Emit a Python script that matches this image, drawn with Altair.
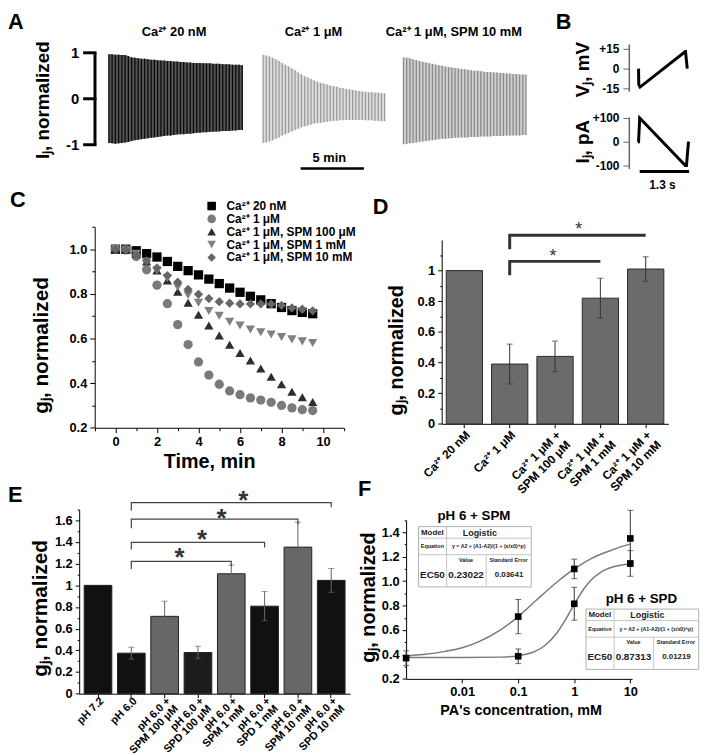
import altair as alt
import pandas as pd

FONT = "Liberation Sans"
W, H = 701, 747

# ---------------- Panel A: peak envelopes of each ramp cycle (normalized Ij) ----------------
a_titles = ["Ca²⁺ 20 nM", "Ca²⁺ 1 μM", "Ca²⁺ 1 μM, SPM 10 mM"]
a_ticks = [-1, 0, 1]
a_tick_labels = ["-1", "0", "1"]
a1_up = [0.97,0.97,0.96,0.96,0.95,0.95,0.93,0.90,0.89,0.88,0.87,0.87,0.86,0.85,0.85,0.84,0.83,0.83,0.82,0.82,0.81,0.81,0.80,0.80,0.79,0.79,0.78,0.78,0.78,0.77,0.77,0.77,0.76,0.76,0.76,0.75,0.75,0.75,0.74,0.74,0.74,0.73]
a1_lo = [-0.96,-0.97,-0.98,-0.97,-0.96,-0.95,-0.94,-0.92,-0.90,-0.89,-0.88,-0.87,-0.86,-0.85,-0.84,-0.83,-0.82,-0.81,-0.80,-0.80,-0.79,-0.78,-0.77,-0.77,-0.76,-0.76,-0.75,-0.74,-0.74,-0.73,-0.73,-0.72,-0.72,-0.71,-0.71,-0.70,-0.70,-0.70,-0.69,-0.69,-0.68,-0.68]
a2_up = [0.96,0.94,0.92,0.89,0.86,0.82,0.78,0.74,0.70,0.66,0.62,0.57,0.53,0.49,0.46,0.43,0.40,0.37,0.35,0.33,0.31,0.29,0.27,0.26,0.24,0.23,0.21,0.20,0.19,0.18,0.17,0.16,0.15,0.14,0.14,0.13,0.13,0.12,0.12]
a2_lo = [-0.96,-0.95,-0.93,-0.90,-0.87,-0.84,-0.80,-0.77,-0.74,-0.71,-0.68,-0.65,-0.62,-0.60,-0.58,-0.56,-0.54,-0.53,-0.52,-0.51,-0.50,-0.49,-0.48,-0.48,-0.47,-0.47,-0.46,-0.46,-0.46,-0.46,-0.46,-0.46,-0.47,-0.47,-0.47,-0.48,-0.48,-0.49,-0.49]
a3_up = [0.90,0.89,0.88,0.86,0.84,0.82,0.80,0.79,0.77,0.76,0.74,0.73,0.72,0.70,0.69,0.68,0.67,0.66,0.65,0.64,0.63,0.62,0.61,0.61,0.60,0.59,0.58,0.58,0.57,0.57,0.56,0.56,0.55,0.55,0.54,0.54,0.53,0.53,0.52]
a3_lo = [-0.99,-0.98,-0.97,-0.96,-0.95,-0.94,-0.93,-0.92,-0.91,-0.90,-0.89,-0.88,-0.87,-0.87,-0.86,-0.86,-0.85,-0.85,-0.84,-0.84,-0.84,-0.83,-0.83,-0.83,-0.82,-0.82,-0.82,-0.82,-0.81,-0.81,-0.81,-0.81,-0.80,-0.80,-0.80,-0.80,-0.80,-0.79,-0.79]

# ---------------- Panel B: one protocol cycle ----------------
b_v_t = [-0.03, -0.025, 0.01, 1.2, 1.205, 1.25]
b_v = [0, -12, -14, 13, 13, 0]
b_i_t = [-0.05, -0.03, 0.0, 1.2, 1.23, 1.28, 1.3]
b_i = [0, 0, 100, -100, -100, -5, 0]
b_v_ticks = [-15, 0, 15]
b_i_ticks = [-100, 0, 100]

# ---------------- Panel C ----------------
c_time = [0, 0.5, 1, 1.5, 2, 2.5, 3, 3.5, 4, 4.5, 5, 5.5, 6, 6.5, 7, 7.5, 8, 8.5, 9, 9.5]
c_series = ["Ca²⁺ 20 nM", "Ca²⁺ 1 μM", "Ca²⁺ 1 μM, SPM 100 μM", "Ca²⁺ 1 μM, SPM 1 mM", "Ca²⁺ 1 μM, SPM 10 mM"]
c_20nM = [1.0, 1.0, 0.993, 0.98, 0.965, 0.945, 0.923, 0.904, 0.885, 0.866, 0.846, 0.826, 0.807, 0.789, 0.773, 0.756, 0.739, 0.725, 0.717, 0.711]
c_1uM = [1.0, 0.997, 0.967, 0.908, 0.839, 0.756, 0.662, 0.573, 0.495, 0.436, 0.395, 0.365, 0.348, 0.334, 0.324, 0.314, 0.300, 0.289, 0.281, 0.277]
c_spm100 = [1.0, 0.997, 0.98, 0.945, 0.905, 0.86, 0.81, 0.76, 0.706, 0.658, 0.613, 0.572, 0.535, 0.501, 0.466, 0.429, 0.395, 0.361, 0.337, 0.315]
c_spm1 = [1.0, 0.997, 0.98, 0.945, 0.905, 0.87, 0.83, 0.795, 0.76, 0.723, 0.702, 0.675, 0.658, 0.64, 0.628, 0.618, 0.607, 0.596, 0.587, 0.58]
c_spm10 = [1.0, 0.997, 0.972, 0.948, 0.916, 0.882, 0.852, 0.82, 0.798, 0.779, 0.765, 0.758, 0.755, 0.755, 0.755, 0.754, 0.748, 0.737, 0.731, 0.724]
c_shapes = ["square", "circle", "triangle-up", "triangle-down", "diamond"]
c_colors = ["#000000", "#7a7a7a", "#2e2e2e", "#808080", "#666666"]

# ---------------- Panel D ----------------
d_cats = ["Ca²⁺ 20 nM", "Ca²⁺ 1 μM", "Ca²⁺ 1 μM +\nSPM 100 μM", "Ca²⁺ 1 μM +\nSPM 1 mM", "Ca²⁺ 1 μM +\nSPM 10 mM"]
d_vals = [1.0, 0.39, 0.44, 0.82, 1.01]
d_err = [0.0, 0.13, 0.10, 0.13, 0.08]

# ---------------- Panel E ----------------
e_cats = ["pH 7.2", "pH 6.0", "pH 6.0 +\nSPM 100 μM", "pH 6.0 +\nSPD 100 μM", "pH 6.0 +\nSPM 1 mM",
          "pH 6.0 +\nSPD 1 mM", "pH 6.0 +\nSPM 10 mM", "pH 6.0 +\nSPD 10 mM"]
e_vals = [1.0, 0.374, 0.714, 0.38, 1.107, 0.808, 1.353, 1.046]
e_err = [0.0, 0.055, 0.14, 0.057, 0.08, 0.135, 0.23, 0.11]
e_colors = ["#111111", "#111111", "#676767", "#1c1c1c", "#676767", "#111111", "#676767", "#111111"]

# ---------------- Panel F ----------------
f_spm_x = [0.001, 0.1, 1, 10]
f_spm_y = [0.37, 0.71, 1.10, 1.35]
f_spm_e = [0.06, 0.14, 0.08, 0.23]
f_spd_x = [0.1, 1, 10]
f_spd_y = [0.385, 0.815, 1.145]
f_spd_e = [0.06, 0.135, 0.105]
f_spm_fit_x = [0.001, 0.002, 0.005, 0.01, 0.02, 0.05, 0.1, 0.2, 0.5, 1, 2, 5, 10]
f_spm_fit_y = [0.39, 0.40, 0.425, 0.455, 0.505, 0.605, 0.71, 0.835, 0.995, 1.10, 1.185, 1.26, 1.305]
f_spd_fit_x = [0.001, 0.01, 0.05, 0.1, 0.2, 0.3, 0.5, 0.7, 1, 1.5, 2, 3, 5, 10]
f_spd_fit_y = [0.375, 0.375, 0.378, 0.39, 0.425, 0.473, 0.582, 0.686, 0.81, 0.94, 1.01, 1.075, 1.118, 1.141]
f_tables = [("pH 6 + SPM", "0.23022", "0.03641"), ("pH 6 + SPD", "0.87313", "0.01219")]


# ---------------- helpers ----------------
def P(v):
    return v - 8


def lin(dom, r0, r1):
    return alt.Scale(type="linear", domain=dom, range=[P(r0), P(r1)], nice=False, zero=False)


AX = dict(title=None, grid=False, labelFont=FONT, labelFontWeight="bold", labelColor="black",
          domainColor="black", tickColor="black", labelFlush=False, labelOverlap=False)


def yaxis(xpos, values, fmt=None, size=13, tick=5, pad=3, **kw):
    d = dict(AX)
    d.update(kw)
    if fmt:
        d["format"] = fmt
    return alt.Axis(orient="left", offset=-P(xpos), values=values, tickSize=tick,
                    labelFontSize=size, labelPadding=pad, **d)


def xaxis(ypos, values=None, fmt=None, size=13, tick=5, pad=3, **kw):
    d = dict(AX)
    d.update(kw)
    if fmt:
        d["format"] = fmt
    if values is not None:
        d["values"] = values
    return alt.Axis(orient="bottom", offset=P(ypos) - H, tickSize=tick,
                    labelFontSize=size, labelPadding=pad, **d)


def txt(s, x, y, size, angle=0, weight="bold", align="center", baseline="middle", color="black"):
    return alt.Chart(pd.DataFrame({"s": [s]})).mark_text(
        align=align, baseline=baseline, fontSize=size, fontWeight=weight, font=FONT,
        angle=angle, color=color).encode(text="s:N", x=alt.value(P(x)), y=alt.value(P(y)))


def seg(x1, y1, x2, y2, w=1.0, color="black"):
    return alt.Chart(pd.DataFrame({"a": [0]})).mark_rule(strokeWidth=w, color=color).encode(
        x=alt.value(P(x1)), x2=alt.value(P(x2)), y=alt.value(P(y1)), y2=alt.value(P(y2)))


def box(x1, y1, x2, y2, stroke="#b0b0b0"):
    return alt.Chart(pd.DataFrame({"a": [0]})).mark_rect(fill="white", stroke=stroke, strokeWidth=1).encode(
        x=alt.value(P(x1)), x2=alt.value(P(x2)), y=alt.value(P(y1)), y2=alt.value(P(y2)))


layers = []

# ================= Panel A =================
a_y = lin([-1, 1], 142, 49)
traces = [(a1_up, a1_lo, 110, 245, "#0a0a0a", "#555555"),
          (a2_up, a2_lo, 266, 389, "#9c9c9c", "#dcdcdc"),
          (a3_up, a3_lo, 408, 532, "#8a8a8a", "#cfcfcf")]
for k, (up, lo, x0, x1, rc, ac) in enumerate(traces):
    df = pd.DataFrame({"i": list(range(len(up))), "up": up, "lo": lo})
    xs = lin([0, len(up) - 1], x0, x1)
    layers.append(alt.Chart(df).mark_area(color=ac, opacity=1).encode(
        x=alt.X("i:Q", scale=xs, axis=None), y=alt.Y("lo:Q", scale=a_y, axis=None), y2="up:Q"))
    layers.append(alt.Chart(df).mark_rule(color=rc, strokeWidth=1.3).encode(
        x=alt.X("i:Q", scale=xs, axis=None), y=alt.Y("lo:Q", scale=a_y, axis=None), y2="up:Q"))
# A axis: bracket-like scale with thick ticks (drawn through the y scale)
a_ax = pd.DataFrame({"v": a_ticks, "lab": a_tick_labels})
layers.append(alt.Chart(pd.DataFrame({"a": [min(a_ticks)], "b": [max(a_ticks)]})).mark_rule(
    color="black", strokeWidth=3).encode(
    x=alt.value(P(96)), y=alt.Y("a:Q", scale=a_y, axis=None), y2="b:Q"))
layers.append(alt.Chart(a_ax).mark_rule(color="black", strokeWidth=3).encode(
    x=alt.value(P(84)), x2=alt.value(P(97.5)), y=alt.Y("v:Q", scale=a_y, axis=None)))
layers.append(alt.Chart(a_ax).mark_text(align="right", baseline="middle", fontSize=15, fontWeight="bold",
                                        font=FONT, color="black").encode(
    x=alt.value(P(80)), y=alt.Y("v:Q", scale=a_y, axis=None), text="lab:N"))
layers += [
    txt("A", 8, 25, 22, align="left", baseline="alphabetic"),
    txt("Iⱼ, normalized", 43, 97, 19, angle=270),
    txt(a_titles[0], 176, 28, 13),
    txt(a_titles[1], 317, 28, 13),
    txt(a_titles[2], 459, 28, 13),
    seg(304, 166, 368, 166, w=2.5),
    txt("5 min", 333, 155, 13),
]

# ================= Panel B =================
b_x = lin([0, 1.3], 647, 697)
bv_y = lin([-17.25, 18.75], 88, 40)
bi_y = lin([-112.5, 104.2], 166, 114)
plus = "datum.value > 0 ? '+' + datum.label : replace(datum.label, '\u2212', '-')"
layers.append(alt.Chart(pd.DataFrame({"t": b_v_t, "v": b_v})).mark_line(color="black", strokeWidth=3).encode(
    x=alt.X("t:Q", scale=b_x, axis=None),
    y=alt.Y("v:Q", scale=bv_y, axis=yaxis(636, b_v_ticks, size=12, tick=6, pad=4, labelExpr=plus,
                                          domainColor="#666", tickColor="#666", domainWidth=1.5)),
    order="t:Q"))
layers.append(alt.Chart(pd.DataFrame({"t": b_i_t, "v": b_i})).mark_line(color="black", strokeWidth=3).encode(
    x=alt.X("t:Q", scale=b_x, axis=None),
    y=alt.Y("v:Q", scale=bi_y, axis=yaxis(636, b_i_ticks, size=12, tick=6, pad=4, labelExpr=plus,
                                          domainColor="#666", tickColor="#666", domainWidth=1.5)),
    order="t:Q"))
layers += [
    txt("B", 562, 25, 22, align="left", baseline="alphabetic"),
    txt("Vⱼ, mV", 590, 66, 19, angle=270),
    txt("Iⱼ, pA", 590, 139, 19, angle=270),
    seg(647, 169, 697, 169, w=3),
    txt("1.3 s", 670, 183, 12),
]

# ================= Panel C =================
c_x = lin([-1, 11], 95.7, 347.7)
c_y = lin([0.2, 1.1], 428.3, 225.1)
rows = []
for s, vals in zip(c_series, [c_20nM, c_1uM, c_spm100, c_spm1, c_spm10]):
    for t, v in zip(c_time, vals):
        rows.append({"t": t, "g": v, "s": s})
c_df = pd.DataFrame(rows)
leg = alt.Legend(orient="none", legendX=P(208), legendY=P(198), title=None, labelFont=FONT,
                 labelFontWeight="bold", labelFontSize=12, labelColor="black", symbolSize=75,
                 labelOffset=9, rowPadding=1, padding=0, symbolStrokeWidth=0, labelLimit=400)
layers.append(alt.Chart(c_df).mark_point(filled=True, opacity=1, size=88, strokeWidth=0).encode(
    x=alt.X("t:Q", scale=c_x, axis=xaxis(428.3, [0, 2, 4, 6, 8, 10], "d")),
    y=alt.Y("g:Q", scale=c_y, axis=yaxis(95.7, [0.2, 0.4, 0.6, 0.8, 1.0], ".1f")),
    shape=alt.Shape("s:N", scale=alt.Scale(domain=c_series, range=c_shapes), legend=leg),
    color=alt.Color("s:N", scale=alt.Scale(domain=c_series, range=c_colors), legend=leg)))
layers.append(alt.Chart(c_df).mark_point(opacity=0).encode(
    x=alt.X("t:Q", scale=c_x, axis=xaxis(428.3, [-1, 1, 3, 5, 7, 9, 11], tick=3, labels=False, domain=False)),
    y=alt.Y("g:Q", scale=c_y, axis=yaxis(95.7, [0.3, 0.5, 0.7, 0.9, 1.1], tick=3, labels=False, domain=False))))
layers += [
    txt("C", 10, 205, 22, align="left", baseline="alphabetic"),
    txt("gⱼ, normalized", 42, 345, 21, angle=270),
    txt("Time, min", 212, 463, 20),
]

# ================= Panel D =================
d_band = alt.Scale(type="band", domain=d_cats, range=[P(446.7), P(676)], paddingInner=0.2, paddingOuter=0.1)
d_pt = alt.Scale(type="point", domain=d_cats, range=[P(446.7), P(676)], padding=0.5)
d_y = lin([0, 1.2], 424.3, 238.3)
d_df = pd.DataFrame({"c": d_cats, "v": d_vals, "lo": [v - e for v, e in zip(d_vals, d_err)],
                     "hi": [v + e for v, e in zip(d_vals, d_err)], "e": d_err})
layers.append(alt.Chart(d_df).mark_bar(color="#6b6b6b", stroke="#2a2a2a", strokeWidth=1).encode(
    x=alt.X("c:N", scale=d_band, axis=xaxis(424.3, labels=False, tick=4)),
    y=alt.Y("v:Q", scale=d_y, axis=yaxis(446.7, [0, 0.2, 0.4, 0.6, 0.8, 1], ".1~f", tick=4, pad=3))))
layers.append(alt.Chart(d_df).mark_point(opacity=0).encode(
    x=alt.X("c:N", scale=d_pt, axis=None),
    y=alt.Y("v:Q", scale=d_y, axis=yaxis(446.7, [0.1, 0.3, 0.5, 0.7, 0.9, 1.1], tick=2, labels=False, domain=False))))
d_e = d_df[d_df.e > 0]
layers.append(alt.Chart(d_e).mark_rule(color="#333333", strokeWidth=1).encode(
    x=alt.X("c:N", scale=d_pt, axis=None), y=alt.Y("lo:Q", scale=d_y, axis=None), y2="hi:Q"))
d_caps = pd.DataFrame({"c": list(d_e.c) * 2, "y": list(d_e.lo) + list(d_e.hi)})
layers.append(alt.Chart(d_caps).mark_point(shape="stroke", size=36, color="#333333", strokeWidth=1).encode(
    x=alt.X("c:N", scale=d_pt, axis=None), y=alt.Y("y:Q", scale=d_y, axis=None)))
d_br = pd.DataFrame({"id": [1, 1, 1, 2, 2, 2], "k": [0, 1, 2, 0, 1, 2],
                     "c": [d_cats[1], d_cats[1], d_cats[3], d_cats[1], d_cats[1], d_cats[4]],
                     "y": [0.97, 1.06, 1.06, 1.14, 1.23, 1.23]})
layers.append(alt.Chart(d_br).mark_line(color="#333333", strokeWidth=3, strokeJoin="miter").encode(
    x=alt.X("c:N", scale=d_pt, axis=None), y=alt.Y("y:Q", scale=d_y, axis=None),
    detail="id:N", order="k:Q"))
for dx, yv in [(-2, 1.054), (24, 1.234)]:
    layers.append(alt.Chart(pd.DataFrame({"c": [d_cats[2]], "y": [yv]})).mark_text(
        text="*", fontSize=18, font=FONT, color="#333333", baseline="alphabetic", dx=dx).encode(
        x=alt.X("c:N", scale=d_pt, axis=None), y=alt.Y("y:Q", scale=d_y, axis=None)))
layers.append(alt.Chart(pd.DataFrame({"c": d_cats})).mark_text(
    angle=315, align="right", baseline="top", lineBreak="\n", fontSize=12, fontWeight="bold",
    font=FONT, color="black").encode(
    x=alt.X("c:N", scale=d_pt, axis=None), y=alt.value(P(430)), text="c:N"))
layers += [
    txt("D", 377, 212, 22, align="left", baseline="alphabetic"),
    txt("gⱼ, normalized", 402, 350, 20, angle=270),
]

# ================= Panel E =================
e_band = alt.Scale(type="band", domain=e_cats, range=[P(80), P(354)], paddingInner=0.17, paddingOuter=0.15)
e_pt = alt.Scale(type="point", domain=e_cats, range=[P(80), P(354)], padding=0.565)
e_y = lin([0, 1.7], 697.3, 511)
e_df = pd.DataFrame({"c": e_cats, "v": e_vals, "lo": [v - e for v, e in zip(e_vals, e_err)],
                     "hi": [v + e for v, e in zip(e_vals, e_err)], "e": e_err})
layers.append(alt.Chart(e_df).mark_bar(stroke="#222222", strokeWidth=1).encode(
    x=alt.X("c:N", scale=e_band, axis=xaxis(697.3, labels=False, tick=4)),
    y=alt.Y("v:Q", scale=e_y, axis=yaxis(80, [0, 0.2, 0.4, 0.6, 0.8, 1, 1.2, 1.4, 1.6], ".1~f", tick=4, pad=3)),
    color=alt.Color("c:N", scale=alt.Scale(domain=e_cats, range=e_colors), legend=None)))
layers.append(alt.Chart(e_df).mark_point(opacity=0).encode(
    x=alt.X("c:N", scale=e_pt, axis=None),
    y=alt.Y("v:Q", scale=e_y, axis=yaxis(80, [0.1, 0.3, 0.5, 0.7, 0.9, 1.1, 1.3, 1.5, 1.7], tick=2, labels=False, domain=False))))
e_e = e_df[e_df.e > 0]
layers.append(alt.Chart(e_e).mark_rule(color="#666666", strokeWidth=1).encode(
    x=alt.X("c:N", scale=e_pt, axis=None), y=alt.Y("lo:Q", scale=e_y, axis=None), y2="hi:Q"))
e_caps = pd.DataFrame({"c": list(e_e.c) * 2, "y": list(e_e.lo) + list(e_e.hi)})
layers.append(alt.Chart(e_caps).mark_point(shape="stroke", size=36, color="#666666", strokeWidth=1).encode(
    x=alt.X("c:N", scale=e_pt, axis=None), y=alt.Y("y:Q", scale=e_y, axis=None)))
e_br_rows = []
for bid, (end, lo_l, top, lo_r) in enumerate([(4, 1.152, 1.222, 1.177), (5, 1.33, 1.396, 1.35),
                                                (6, 1.527, 1.611, 1.565), (7, 1.688, 1.764, 1.72)]):
    for k, (ci, yv) in enumerate([(1, lo_l), (1, top), (end, top), (end, lo_r)]):
        e_br_rows.append({"id": bid, "k": k, "c": e_cats[ci], "y": yv})
layers.append(alt.Chart(pd.DataFrame(e_br_rows)).mark_line(color="#444444", strokeWidth=1.2).encode(
    x=alt.X("c:N", scale=e_pt, axis=None), y=alt.Y("y:Q", scale=e_y, axis=None),
    detail="id:N", order="k:Q"))
for ci, dx, yv in [(2, 15, 1.177), (3, 4, 1.344), (4, -10, 1.542), (4, 12, 1.709)]:
    layers.append(alt.Chart(pd.DataFrame({"c": [e_cats[ci]], "y": [yv]})).mark_text(
        text="*", fontSize=26, fontWeight="bold", font=FONT, color="#333333", baseline="alphabetic", dx=dx).encode(
        x=alt.X("c:N", scale=e_pt, axis=None), y=alt.Y("y:Q", scale=e_y, axis=None)))
layers.append(alt.Chart(pd.DataFrame({"c": e_cats})).mark_text(
    angle=315, align="right", baseline="top", lineBreak="\n", lineHeight=11, fontSize=11, fontWeight="bold",
    font=FONT, color="black").encode(
    x=alt.X("c:N", scale=e_pt, axis=None), y=alt.value(P(699)), text="c:N"))
layers += [
    txt("E", 8, 503, 22, align="left", baseline="alphabetic"),
    txt("gⱼ, normalized", 41, 611, 21, angle=270),
]

# ================= Panel F =================
f_x = alt.Scale(type="log", domain=[0.001, 10.76], range=[P(410.7), P(639.3)], nice=False)
f_y = lin([0.2, 1.5], 682.3, 521.7)
fit_df = pd.DataFrame({"x": f_spm_fit_x + f_spd_fit_x, "y": f_spm_fit_y + f_spd_fit_y,
                       "s": ["SPM"] * len(f_spm_fit_x) + ["SPD"] * len(f_spd_fit_x)})
layers.append(alt.Chart(fit_df).mark_line(color="#7a7a7a", strokeWidth=1.5, interpolate="monotone").encode(
    x=alt.X("x:Q", scale=f_x, axis=xaxis(682.3, [0.01, 0.1, 1, 10], "~g", size=13, tick=4)),
    y=alt.Y("y:Q", scale=f_y, axis=yaxis(410.7, [0.2, 0.4, 0.6, 0.8, 1.0, 1.2, 1.4], ".1f", size=13, tick=4)),
    detail="s:N", order="x:Q"))
layers.append(alt.Chart(fit_df).mark_point(opacity=0).encode(
    x=alt.X("x:Q", scale=f_x, axis=None),
    y=alt.Y("y:Q", scale=f_y, axis=yaxis(410.7, [0.3, 0.5, 0.7, 0.9, 1.1, 1.3, 1.5], tick=2, labels=False, domain=False))))
pts = pd.DataFrame({"x": f_spm_x + f_spd_x, "y": f_spm_y + f_spd_y, "e": f_spm_e + f_spd_e})
pts["lo"] = pts.y - pts.e
pts["hi"] = pts.y + pts.e
layers.append(alt.Chart(pts).mark_rule(color="#333333", strokeWidth=1).encode(
    x=alt.X("x:Q", scale=f_x, axis=None), y=alt.Y("lo:Q", scale=f_y, axis=None), y2="hi:Q"))
f_caps = pd.DataFrame({"x": list(pts.x) * 2, "y": list(pts.lo) + list(pts.hi)})
layers.append(alt.Chart(f_caps).mark_point(shape="stroke", size=36, color="#333333", strokeWidth=1).encode(
    x=alt.X("x:Q", scale=f_x, axis=None), y=alt.Y("y:Q", scale=f_y, axis=None)))
layers.append(alt.Chart(pts).mark_point(shape="square", filled=True, size=45, color="black", opacity=1).encode(
    x=alt.X("x:Q", scale=f_x, axis=None), y=alt.Y("y:Q", scale=f_y, axis=None)))


def table(x0, y0, title, val, err):
    g = "#c4c4c4"
    c = "#222222"
    return [
        txt(title, x0 + 56, y0 - 10.5, 13.5),
        box(x0, y0, x0 + 114, y0 + 61),
        seg(x0, y0 + 11.7, x0 + 114, y0 + 11.7, color=g),
        seg(x0, y0 + 28.4, x0 + 114, y0 + 28.4, color=g),
        seg(x0 + 28.4, y0, x0 + 28.4, y0 + 61, color=g),
        seg(x0 + 68.4, y0 + 28.4, x0 + 68.4, y0 + 61, color=g),
        txt("Model", x0 + 14, y0 + 6, 8, color=c),
        txt("Logistic", x0 + 62, y0 + 6, 9, color=c),
        txt("Equation", x0 + 14, y0 + 20, 5.5, color=c),
        txt("y = A2 + (A1-A2)/(1 + (x/x0)^p)", x0 + 71, y0 + 20, 5.3, color=c),
        txt("Value", x0 + 48, y0 + 33.5, 5.5, color=c),
        txt("Standard Error", x0 + 91, y0 + 33.5, 5.5, color=c),
        txt("EC50", x0 + 14, y0 + 49, 10, color=c),
        txt(val, x0 + 48, y0 + 49, 10, color=c),
        txt(err, x0 + 91.5, y0 + 49, 8, color=c),
    ]


layers += table(423.3, 528.3, *f_tables[0])
layers += table(592.7, 611.7, *f_tables[1])
layers += [
    txt("F", 362, 497, 22, align="left", baseline="alphabetic"),
    txt("gⱼ, normalized", 373, 600, 20, angle=270),
    txt("PA's concentration, mM", 527, 715, 14.5),
]

chart = alt.layer(*layers).resolve_scale(
    x="independent", y="independent", color="independent", shape="independent"
).properties(
    width=W, height=H, autosize=alt.AutoSizeParams(type="none"), padding=0, background="white"
).configure_view(stroke=None)

chart.save("out.html", embed_options={"renderer": "svg", "actions": False})
